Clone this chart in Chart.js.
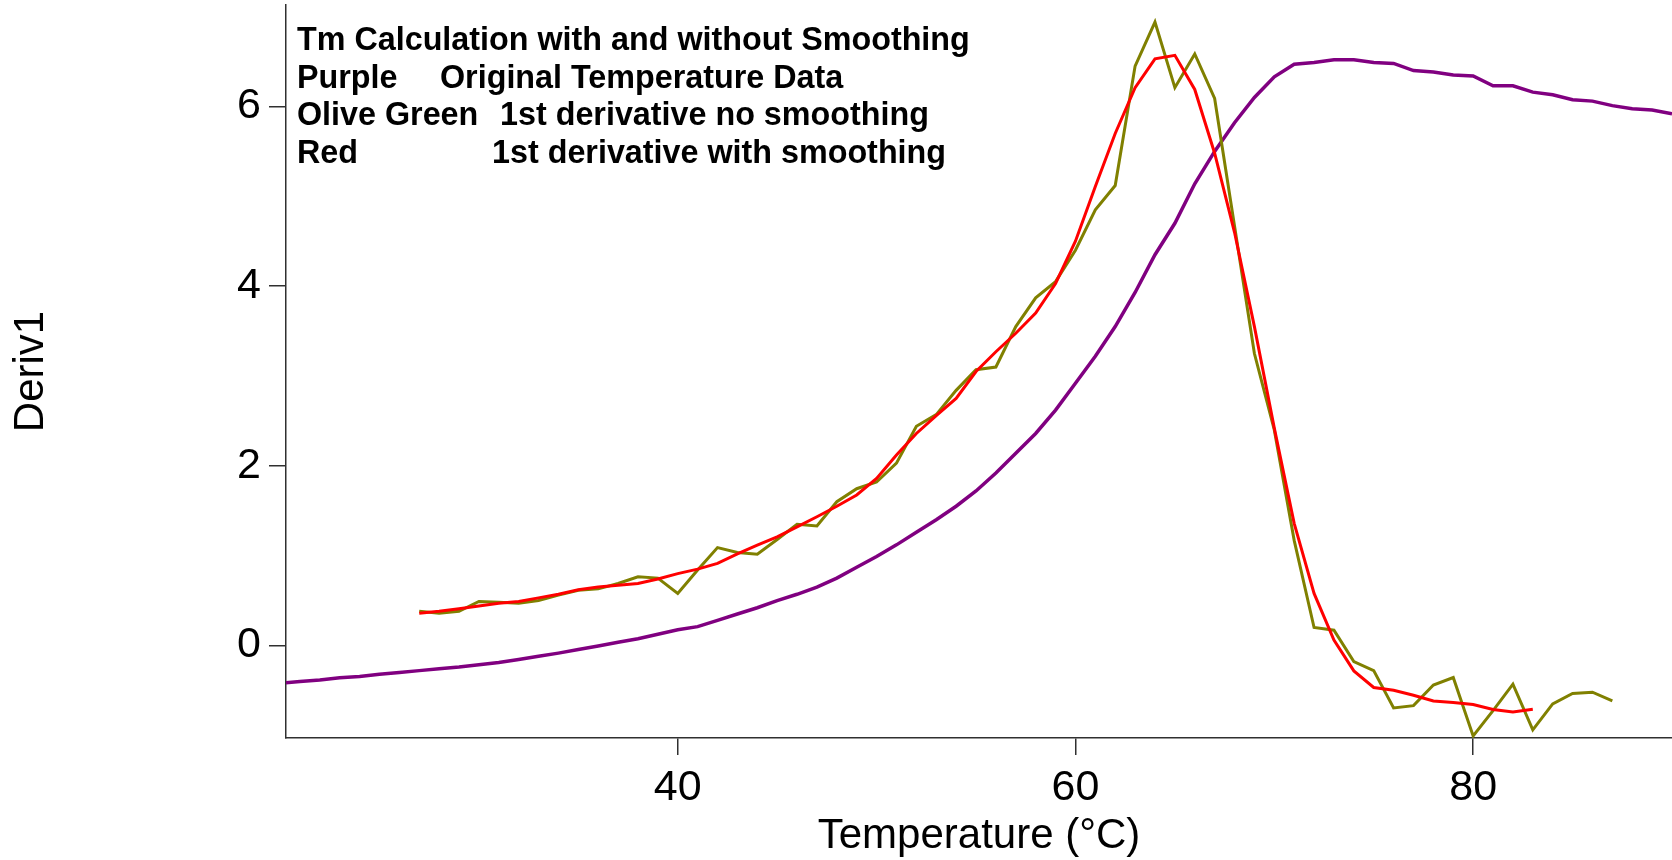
<!DOCTYPE html>
<html>
<head>
<meta charset="utf-8">
<title>Tm Calculation</title>
<script src="https://cdn.jsdelivr.net/npm/chart.js@4.4.1/dist/chart.umd.min.js"></script>
<style>
  html, body { margin: 0; padding: 0; background: #fff; }
  #wrap { position: relative; width: 1672px; height: 860px; }
  #note {
    position: absolute; left: 297px; top: 21px;
    font: bold 32.3px "Liberation Sans", Arial, sans-serif;
    line-height: 37.6px; color: #000; white-space: nowrap;
  }
  #note .row { position: relative; height: 37.6px; }
  #note .col2 { position: absolute; top: 0; }
</style>
</head>
<body>
<div id="wrap">
  <canvas id="tmChart"></canvas>
  <div id="note">
    <div class="row">Tm Calculation with and without Smoothing</div>
    <div class="row">Purple<span class="col2" style="left:143px">Original Temperature Data</span></div>
    <div class="row">Olive Green<span class="col2" style="left:203px">1st derivative no smoothing</span></div>
    <div class="row">Red<span class="col2" style="left:195px">1st derivative with smoothing</span></div>
  </div>
</div>
<script>
// ===== DATA =====
const tempOrig = [
  20, 21, 22, 23, 24, 25, 26, 27, 28, 29,
  30, 31, 32, 33, 34, 35, 36, 37, 38, 39,
  40, 41, 42, 43, 44, 45, 46, 47, 48, 49,
  50, 51, 52, 53, 54, 55, 56, 57, 58, 59,
  60, 61, 62, 63, 64, 65, 66, 67, 68, 69,
  70, 71, 72, 73, 74, 75, 76, 77, 78, 79,
  80, 81, 82, 83, 84, 85, 86, 87, 88, 89, 90
];
const origData = [
  -0.42, -0.40, -0.385, -0.36, -0.345, -0.32, -0.30, -0.28, -0.26, -0.24,
  -0.215, -0.19, -0.155, -0.12, -0.085, -0.045, -0.005, 0.035, 0.075, 0.125,
  0.175, 0.21, 0.28, 0.35, 0.42, 0.50, 0.57, 0.65, 0.75, 0.87,
  0.99, 1.12, 1.26, 1.40, 1.55, 1.72, 1.92, 2.14, 2.36, 2.62,
  2.92, 3.22, 3.55, 3.93, 4.35, 4.70, 5.14, 5.50, 5.82, 6.10,
  6.33, 6.47, 6.49, 6.52, 6.52, 6.49, 6.48, 6.40, 6.385, 6.35,
  6.34, 6.23, 6.23, 6.16, 6.13, 6.075, 6.06, 6.01, 5.975, 5.96, 5.92
];

const tempDeriv = [
  27, 28, 29, 30, 31, 32, 33, 34, 35, 36,
  37, 38, 39, 40, 41, 42, 43, 44, 45, 46,
  47, 48, 49, 50, 51, 52, 53, 54, 55, 56,
  57, 58, 59, 60, 61, 62, 63, 64, 65, 66,
  67, 68, 69, 70, 71, 72, 73, 74, 75, 76,
  77, 78, 79, 80, 81, 82, 83, 84, 85, 86, 87
];
const derivRaw = [
  0.38, 0.36, 0.38, 0.49, 0.48, 0.47, 0.50, 0.56, 0.615, 0.63,
  0.69, 0.765, 0.75, 0.58, 0.84, 1.09, 1.035, 1.015, 1.18, 1.35,
  1.33, 1.60, 1.745, 1.82, 2.03, 2.44, 2.57, 2.84, 3.07, 3.10,
  3.55, 3.87, 4.05, 4.40, 4.85, 5.12, 6.45, 6.94, 6.21, 6.585,
  6.09, 4.67, 3.25, 2.40, 1.17, 0.20, 0.17, -0.18, -0.28, -0.695,
  -0.67, -0.44, -0.357, -1.007, -0.725, -0.43, -0.94, -0.65, -0.535, -0.52, -0.617
];

const tempSmooth = [
  27, 28, 29, 30, 31, 32, 33, 34, 35, 36,
  37, 38, 39, 40, 41, 42, 43, 44, 45, 46,
  47, 48, 49, 50, 51, 52, 53, 54, 55, 56,
  57, 58, 59, 60, 61, 62, 63, 64, 65, 66,
  67, 68, 69, 70, 71, 72, 73, 74, 75, 76,
  77, 78, 79, 80, 81, 82, 83
];
const derivSmooth = [
  0.36, 0.38, 0.41, 0.44, 0.47, 0.49, 0.53, 0.57, 0.62, 0.65,
  0.67, 0.69, 0.74, 0.80, 0.85, 0.914, 1.02, 1.117, 1.21, 1.32,
  1.433, 1.55, 1.675, 1.86, 2.12, 2.36, 2.56, 2.75, 3.05, 3.27,
  3.476, 3.70, 4.03, 4.50, 5.11, 5.70, 6.21, 6.53, 6.57, 6.19,
  5.48, 4.60, 3.55, 2.42, 1.36, 0.58, 0.06, -0.283, -0.468, -0.498,
  -0.554, -0.617, -0.636, -0.658, -0.713, -0.74, -0.71
];

const xTicks = [40, 60, 80];
const yTicks = [0, 2, 4, 6];

// ===== HELPERS =====
const FONT = '"Liberation Sans", Arial, sans-serif';
const AXIS_COLOR = '#303030';

function toPoints(xs, ys) {
  return xs.map((x, i) => ({ x: x, y: ys[i] }));
}

function lineSet(label, xs, ys, color, width) {
  return {
    label: label,
    data: toPoints(xs, ys),
    borderColor: color,
    backgroundColor: color,
    borderWidth: width,
    pointRadius: 0,
    tension: 0,
    fill: false,
    clip: 0
  };
}

// ===== CHART =====
document.addEventListener('DOMContentLoaded', () => {
  const ctx = document.getElementById('tmChart');
  new Chart(ctx, {
    type: 'line',
    data: {
      datasets: [
        // first dataset is drawn on top
        lineSet('1st derivative with smoothing', tempSmooth, derivSmooth, '#ff0000', 3),
        lineSet('1st derivative no smoothing', tempDeriv, derivRaw, '#808000', 3),
        lineSet('Original Temperature Data', tempOrig, origData, '#800080', 3.5)
      ]
    },
    options: {
      responsive: true,
      maintainAspectRatio: false,
      animation: false,
      layout: { padding: { top: 5, left: 0, right: 0, bottom: 0 } },
      plugins: {
        legend: { display: false },
        tooltip: { enabled: false }
      },
      scales: {
        x: {
          type: 'linear',
          min: 20.3,
          max: 90,
          afterBuildTicks: s => { s.ticks = xTicks.map(v => ({ value: v })); },
          afterFit: s => { s.height = 122; s.paddingLeft = 0; s.paddingRight = 0; },
          border: { display: true, color: AXIS_COLOR, width: 1.5 },
          grid: { display: true, drawOnChartArea: false, drawTicks: true, tickLength: 17, color: AXIS_COLOR, lineWidth: 1.5 },
          ticks: { color: '#000', font: { family: FONT, size: 43 }, padding: 7, maxRotation: 0, autoSkip: false },
          title: {
            display: true, text: 'Temperature (°C)', color: '#000',
            font: { family: FONT, size: 42, lineHeight: 1.1 }, padding: { top: 0, bottom: 0 }
          }
        },
        y: {
          type: 'linear',
          min: -1.03,
          max: 7.13,
          afterBuildTicks: s => { s.ticks = yTicks.map(v => ({ value: v })); },
          afterFit: s => { s.width = 286; s.paddingTop = 0; s.paddingBottom = 0; },
          border: { display: true, color: AXIS_COLOR, width: 1.5 },
          grid: { display: true, drawOnChartArea: false, drawTicks: true, tickLength: 17, color: AXIS_COLOR, lineWidth: 1.5 },
          ticks: { color: '#000', font: { family: FONT, size: 43 }, padding: 8, autoSkip: false },
          title: {
            display: true, text: 'Deriv1', color: '#000',
            font: { family: FONT, size: 42, lineHeight: 1.1 }, padding: { top: 8, bottom: 0 }
          }
        }
      }
    }
  });
});
</script>
</body>
</html>
